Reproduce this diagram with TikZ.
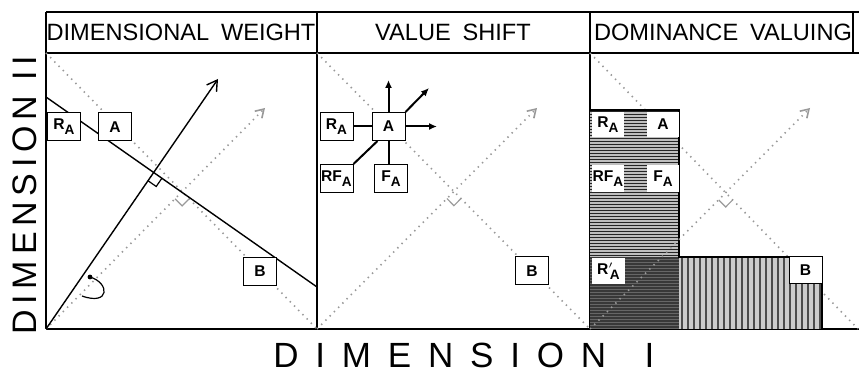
\documentclass[tikz,border=0pt]{standalone}
\usepackage{fontspec}
\setmainfont{Liberation Sans}
\usetikzlibrary{arrows.meta,positioning,calc}
\newcommand{\lowA}{\raisebox{-0.6ex}{\fontsize{6.8}{7}\selectfont A}}

\begin{document}
\begin{tikzpicture}[x=0.5pt,y=-0.5pt,
  lbl/.style={draw, fill=white, line width=0.5pt, minimum width=16.5pt, minimum height=14pt, inner sep=0pt, font=\fontsize{7.8}{8}\selectfont\bfseries},
  dotln/.style={gray!80, line width=0.8pt, dash pattern=on 0.7pt off 2.3pt},
  hdr/.style={font=\fontsize{11.8}{12}\selectfont},
  frm/.style={line width=0.6pt},
  rmark/.style={gray!80, line width=0.6pt}]
  \useasboundingbox (0,0) rectangle (859,373);

  % Frame
  \draw[frm] (46,12) -- (859,12);
  \draw[frm] (46,53) -- (859,53);
  \draw[frm] (46,329) -- (859,329);
  \foreach \x in {46,317,590} \draw[frm] (\x,12) -- (\x,329);
  \draw[frm] (853,12) -- (853,53);
  \node[hdr] (h1) at (181,32.5) {DIMENSIONAL\hspace{0.5em}WEIGHT};
  \node[hdr] (h2) at (453,32.5) {VALUE\hspace{0.5em}SHIFT};
  \node[hdr] (h3) at (723,32.5) {DOMINANCE\hspace{0.5em}VALUING};

  % Axis labels
  \node[rotate=90, anchor=west, inner sep=0pt, font=\fontsize{17}{17}\selectfont\addfontfeature{LetterSpace=17}] (dim2) at (25,335) {DIMENSION II};
  \node[anchor=west, inner sep=0pt, font=\fontsize{17.5}{18}\selectfont\addfontfeature{LetterSpace=48}] (dim1) at (273,355) {DIMENSION\hspace{1.1em}I};

  % Dimensional weight
  \coordinate (o1) at (46,329); \coordinate (tl1) at (46,53); \coordinate (br1) at (317,329);
  \coordinate (tip1) at (265,108); \coordinate (wtip) at (218,79);
  \coordinate (ws) at (46,97); \coordinate (we) at (317,287);
  \draw[dotln] (tl1) -- (br1);
  \draw[dotln, -{Straight Barb[length=4pt, width=5pt]}] (o1) -- (tip1);
  \draw[line width=0.7pt, -{Straight Barb[length=5pt, width=6pt]}] (o1) -- (wtip);
  \draw[line width=0.7pt] (ws) -- (we);
  \coordinate (x1) at (intersection of ws--we and o1--wtip);
  \coordinate (y1) at (intersection of tl1--br1 and o1--tip1);
  \draw[line width=0.6pt] ($(x1)!5pt!(we)$) -- ($($(x1)!5pt!(we)$)+($(x1)!5pt!(o1)$)-(x1)$) -- ($(x1)!5pt!(o1)$);
  \draw[rmark] ($(y1)!5pt!(br1)$) -- ($($(y1)!5pt!(br1)$)+($(y1)!5pt!(o1)$)-(y1)$) -- ($(y1)!5pt!(o1)$);
  \fill (90,277) circle (1.2pt);
  \draw[line width=0.6pt] (90,277) .. controls (110,283) and (110,306) .. (82,296);
  \node[lbl] (ra1) at (64,127) {R\lowA};
  \node[lbl] (a1) at (115,127) {A};
  \node[lbl] (b1) at (260,271.5) {B};

  % Value shift
  \coordinate (o2) at (317,329); \coordinate (tl2) at (317,53); \coordinate (br2) at (590,329);
  \coordinate (tip2) at (537,108);
  \draw[dotln] (tl2) -- (br2);
  \draw[dotln, -{Straight Barb[length=4pt, width=5pt]}] (o2) -- (tip2);
  \coordinate (y2) at (intersection of tl2--br2 and o2--tip2);
  \draw[rmark] ($(y2)!5pt!(br2)$) -- ($($(y2)!5pt!(br2)$)+($(y2)!5pt!(o2)$)-(y2)$) -- ($(y2)!5pt!(o2)$);
  \node[lbl] (ra2) at (336.5,126.5) {R\lowA};
  \node[lbl] (a2) at (388.5,126.5) {A};
  \node[lbl] (rf2) at (336.5,178.5) {RF\lowA};
  \node[lbl] (f2) at (391,178.5) {F\lowA};
  \node[lbl] (b2) at (532,271) {B};
  \coordinate (up2) at (388.5,80); \coordinate (ne2) at (429,88); \coordinate (rt2) at (437,126.5);
  \draw[line width=1pt] (ra2) -- (a2);
  \draw[line width=1pt, -{Latex[length=4pt, width=3.5pt]}] (a2.north) -- (up2);
  \draw[line width=1pt, -{Latex[length=4pt, width=3.5pt]}] (a2.north east) -- (ne2);
  \draw[line width=1pt, -{Latex[length=4pt, width=3.5pt]}] (a2.east) -- (rt2);
  \draw[line width=1pt] ($(a2.south west)+(6,0)$) -- (rf2.north east);
  \draw[line width=1pt] (a2.south) -- (a2.south |- f2.north);

  % Dominance valuing
  \coordinate (o3) at (590,329); \coordinate (tl3) at (590,53); \coordinate (br3) at (858,329);
  \coordinate (tip3) at (810,108);
  \draw[dotln] (tl3) -- (br3);
  \fill[gray!50] (590,110) rectangle (679,257);
  \foreach \y in {111.5,114.5,...,256} \draw[gray!30!black, line width=0.5pt] (590,\y) -- (679,\y);
  \fill[black!78] (590,257) rectangle (679,329);
  \foreach \y in {259,262,...,328} \draw[black!60, line width=0.4pt] (590,\y) -- (679,\y);
  \fill[gray!40] (679,257) rectangle (822,329);
  \foreach \x in {682,688,...,820} \draw[black!70, line width=1.2pt] (\x,257) -- (\x,329);
  \draw[frm] (590,110) -- (679,110) -- (679,257) -- (822,257) -- (822,329);
  \draw[dotln, -{Straight Barb[length=4pt, width=5pt]}] (o3) -- (tip3);
  \coordinate (y3) at (intersection of tl3--br3 and o3--tip3);
  \draw[rmark] ($(y3)!5pt!(br3)$) -- ($($(y3)!5pt!(br3)$)+($(y3)!5pt!(o3)$)-(y3)$) -- ($(y3)!5pt!(o3)$);
  \node[lbl, draw=none, minimum width=16pt, minimum height=12.5pt] (ra3) at (608,124.5) {R\lowA};
  \node[lbl, draw=none, minimum width=16pt, minimum height=12.5pt] (a3) at (663,124.5) {A};
  \node[lbl, draw=none, minimum width=16pt, minimum height=13.5pt] (rf3) at (608,178.5) {RF\lowA};
  \node[lbl, draw=none, minimum width=16pt, minimum height=13.5pt] (f3) at (663,178.5) {F\lowA};
  \node[lbl, draw=none, minimum width=16.5pt, minimum height=13pt] (rp3) at (608.5,271) {R$'$\kern-0.25em\lowA};
  \node[lbl, minimum height=13.5pt] (b3) at (805.5,270.5) {B};
\end{tikzpicture}
\end{document}
